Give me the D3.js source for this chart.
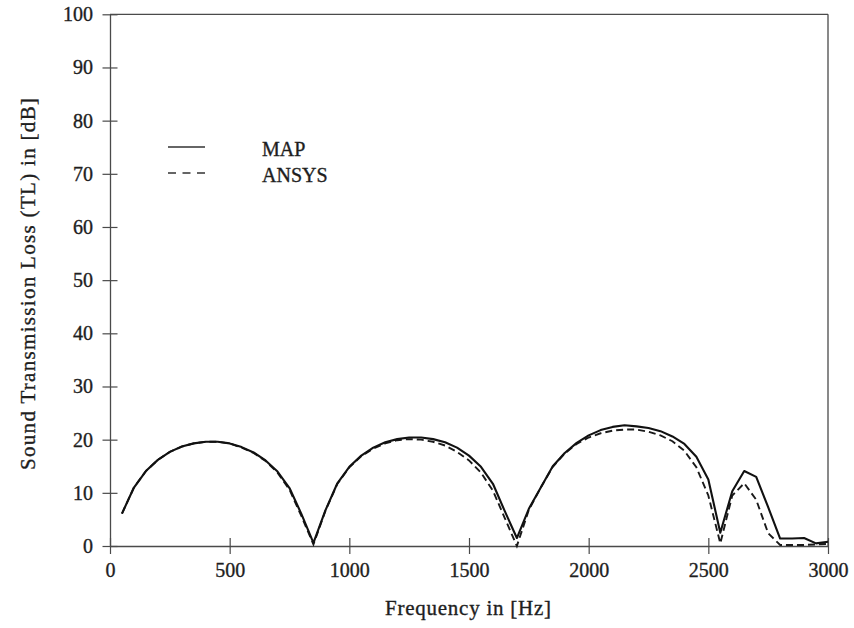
<!DOCTYPE html>
<html><head><meta charset="utf-8">
<script src="https://cdn.jsdelivr.net/npm/d3@7"></script>
<style>
html,body{margin:0;padding:0;background:#fff;}
svg{display:block;}
svg text{font-family:"Liberation Serif","DejaVu Serif",serif !important;fill:#1e1e1e;stroke:#1e1e1e;stroke-width:0.35px;}
</style></head>
<body>
<svg id="chart" width="854" height="628"></svg>
<script>
const frequencies = [50,100,150,200,250,300,350,400,450,500,550,600,650,700,750,800,850,900,950,1000,
  1050,1100,1150,1200,1250,1300,1350,1400,1450,1500,1550,1600,1650,1700,1750,1800,1850,1900,1950,2000,
  2050,2100,2150,2200,2250,2300,2350,2400,2450,2500,2550,2600,2650,2700,2750,2800,2850,2900,2950,3000];
const mapValues = [6.1,11.0,14.1,16.2,17.7,18.7,19.3,19.6,19.6,19.3,18.6,17.6,16.1,14.0,10.9,6.0,0.6,
  6.7,11.8,14.9,17.0,18.5,19.5,20.1,20.4,20.4,20.1,19.5,18.5,17.0,14.9,11.7,6.5,1.5,
  7.0,11.0,15.0,17.5,19.4,20.8,21.8,22.4,22.7,22.5,22.2,21.6,20.6,19.2,16.8,12.5,2.5,
  10.3,14.1,13.0,7.3,1.4,1.4,1.5,0.5,0.8];
const ansysValues = [6.1,11.0,14.1,16.2,17.7,18.7,19.3,19.6,19.6,19.3,18.5,17.5,16.0,13.8,10.6,5.6,0.3,
  6.6,11.7,14.8,16.9,18.3,19.3,19.9,20.1,20.0,19.6,18.9,17.7,16.1,13.8,10.4,5.2,0.0,
  6.8,11.0,14.9,17.4,19.2,20.4,21.2,21.7,21.9,21.9,21.5,20.8,19.7,17.9,14.8,9.5,0.5,
  9.5,11.8,8.7,2.4,0.2,0.2,0.2,0.3,0.4];
const xTicks = [0,500,1000,1500,2000,2500,3000];
const yTicks = [0,10,20,30,40,50,60,70,80,90,100];
const seriesNames = ["MAP","ANSYS"];
const xTitle = "Frequency in [Hz]";
const yTitle = "Sound Transmission Loss (TL) in [dB]";

const serif = '"Liberation Serif","DejaVu Serif",serif';
const svg = d3.select("#chart");
const x = d3.scaleLinear().domain([0,3000]).range([110,828]);
const y = d3.scaleLinear().domain([0,100]).range([546,14.3]);

const axisColor = "#4a4a4a";
svg.append("line").attr("x1",x(0)).attr("x2",x(3000)).attr("y1",y(100)).attr("y2",y(100))
  .attr("stroke",axisColor).attr("stroke-width",1.3);
svg.append("line").attr("x1",x(3000)).attr("x2",x(3000)).attr("y1",y(100)).attr("y2",y(0))
  .attr("stroke",axisColor).attr("stroke-width",1.3);

const xAxis = d3.axisBottom(x).tickValues(xTicks).tickFormat(d3.format("d")).tickSizeInner(8).tickSizeOuter(0).tickPadding(9);
const gx = svg.append("g").attr("transform",`translate(0,${y(0)})`).call(xAxis).attr("font-family",null);
gx.select(".domain").attr("stroke",axisColor).attr("stroke-width",1.3);
gx.selectAll(".tick line").attr("y1",-8).attr("y2",8).attr("stroke",axisColor).attr("stroke-width",1.2);
gx.selectAll(".tick text").style("font-family",serif).style("font-size","20px");

const yAxis = d3.axisLeft(y).tickValues(yTicks).tickFormat(d3.format("d")).tickSizeInner(8).tickSizeOuter(0).tickPadding(10);
const gy = svg.append("g").attr("transform",`translate(${x(0)},0)`).call(yAxis).attr("font-family",null);
gy.select(".domain").attr("stroke",axisColor).attr("stroke-width",1.3);
gy.selectAll(".tick line").attr("x1",-7.5).attr("x2",7.5).attr("stroke",axisColor).attr("stroke-width",1.2);
gy.selectAll(".tick text").style("font-family",serif).style("font-size","20px").attr("x",-17);

svg.append("text").attr("x",468).attr("y",615).attr("text-anchor","middle")
  .style("font-family",serif).style("font-size","21px")
  .attr("textLength",166).attr("lengthAdjust","spacing").text(xTitle);
svg.append("text").attr("transform","translate(35,284) rotate(-90)").attr("text-anchor","middle")
  .style("font-family",serif).style("font-size","21px")
  .attr("textLength",372).attr("lengthAdjust","spacing").text(yTitle);

const line = d3.line().x((d,i)=>x(frequencies[i])).y(d=>y(d));
svg.append("path").datum(ansysValues).attr("d",line).attr("fill","none")
  .attr("stroke","#1a1a1a").attr("stroke-width",1.9).attr("stroke-dasharray","7,4");
svg.append("path").datum(mapValues).attr("d",line).attr("fill","none")
  .attr("stroke","#111").attr("stroke-width",2.1).attr("stroke-linejoin","round");

const legY = [147,173];
const dashes = [null,"8,6.5"];
seriesNames.forEach((name,i)=>{
  const l = svg.append("line").attr("x1",168).attr("x2",205).attr("y1",legY[i]).attr("y2",legY[i])
    .attr("stroke","#333").attr("stroke-width",1.3);
  if (dashes[i]) l.attr("stroke-dasharray",dashes[i]);
  svg.append("text").attr("x",262).attr("y",legY[i]+9)
    .style("font-family",serif).style("font-size","20px").text(name);
});
</script>
</body></html>
